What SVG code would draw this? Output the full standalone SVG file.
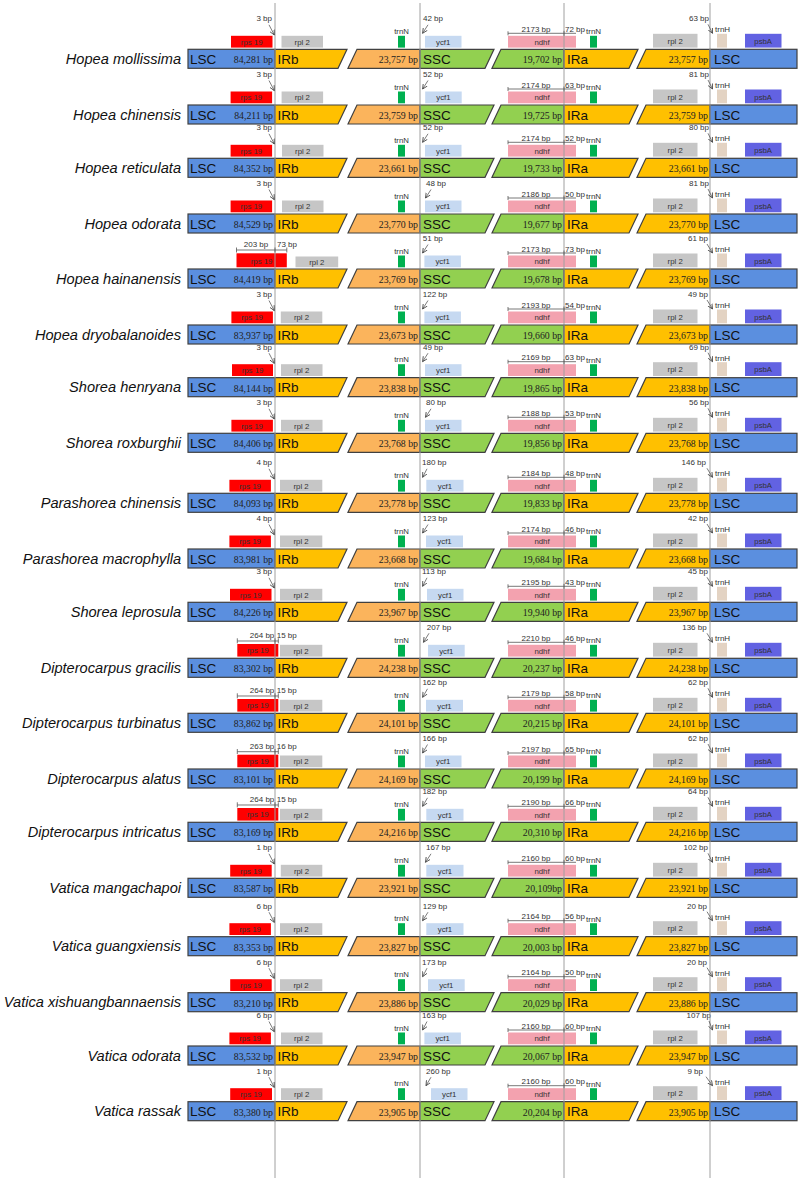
<svg xmlns="http://www.w3.org/2000/svg" width="800" height="1181" viewBox="0 0 800 1181">
<style>
.sp{font-family:"Liberation Sans",Arial,sans-serif;font-style:italic;font-size:14.6px;text-anchor:end;fill:#111}
.rg{font-family:"Liberation Sans",Arial,sans-serif;font-size:13.5px;fill:#111}
.bp{font-family:"Liberation Serif","Times New Roman",serif;font-size:9.8px;text-anchor:end;fill:#222}
.gn{font-family:"Liberation Sans",Arial,sans-serif;font-size:7.8px;text-anchor:middle;fill:#333}
.lb{font-family:"Liberation Sans",Arial,sans-serif;font-size:8px;fill:#333}
.e{text-anchor:end}.m{text-anchor:middle}
.bar{stroke:#404040;stroke-width:1.2}
.lsc{fill:#5B8FDF}.irb{fill:#FFC000}.ir2{fill:#FBB45C}.ssc{fill:#92D050}
.rps{fill:#FF0000}.rpl{fill:#C6C6C6}.trnN{fill:#00B050}.ycf{fill:#C6D9F1}.ndhf{fill:#F3A2AF}.trnH{fill:#E3D3C3}.psbA{fill:#6262E2}
.vl{stroke:#A0A0A0;stroke-width:1;fill:none}
.ar{stroke:#444;stroke-width:0.7;fill:none;marker-end:url(#ah)}
.dm{stroke:#555;stroke-width:0.8;fill:none}
</style>
<defs>
<marker id="ah" markerWidth="6" markerHeight="6" refX="5" refY="3" orient="auto" markerUnits="userSpaceOnUse"><path d="M0,0.6 L5,3 L0,5.4" fill="none" stroke="#444" stroke-width="0.8"/></marker>
<g id="bars">
<rect class="bar lsc" x="188" y="0" width="87" height="19"/>
<polygon class="bar irb" points="275,0 347,0 338,19 275,19"/>
<polygon class="bar ir2" points="348,19 357,0 420,0 420,19"/>
<polygon class="bar ssc" points="420,0 494,0 485,19 420,19"/>
<polygon class="bar ssc" points="492,19 501,0 564,0 564,19"/>
<polygon class="bar irb" points="564,0 638,0 629,19 564,19"/>
<polygon class="bar irb" points="637,19 646,0 710,0 710,19"/>
<rect class="bar lsc" x="710" y="0" width="87" height="19"/>
</g>
<g id="rgenes">
<rect class="trnN" x="398" y="-13.5" width="7" height="11.8"/>
<rect class="ndhf" x="508" y="-13.5" width="68" height="11.8"/>
<rect class="trnN" x="590" y="-13.5" width="7" height="11.8"/>
<rect class="rpl" x="653" y="-15.5" width="44.5" height="13.8"/>
<rect class="trnH" x="717" y="-15.5" width="10" height="13.8"/>
<rect class="psbA" x="745" y="-15.5" width="36.5" height="13.8"/>
</g>
</defs>

<g id="row01" transform="translate(0,49.3)">
<text class="sp" x="181" y="14.5">Hopea mollissima</text>
<use href="#bars"/><use href="#rgenes"/>
<text class="rg" x="190" y="14.5">LSC</text><text class="bp" x="273" y="14">84,281 bp</text>
<text class="rg" x="277.5" y="14.5">IRb</text><text class="bp" x="418" y="14">23,757 bp</text>
<text class="rg" x="423" y="14.5">SSC</text><text class="bp" x="562" y="14">19,702 bp</text>
<text class="rg" x="567" y="14.5">IRa</text><text class="bp" x="708" y="14">23,757 bp</text>
<text class="rg" x="714" y="14.5">LSC</text>
<rect class="rps" x="231" y="-13.5" width="41.5" height="11.8"/><text class="gn" x="251.7" y="-4.8">rps 19</text>
<rect class="rpl" x="281.5" y="-13.5" width="41.5" height="11.8"/><text class="gn" x="302.2" y="-4.8">rpl 2</text>
<text class="gn" x="401.5" y="-15.5">trnN</text>
<rect class="ycf" x="425" y="-13.5" width="36.5" height="11.8"/><text class="gn" x="443.2" y="-4.8">ycf1</text>
<text class="gn" x="542" y="-4.8">ndhf</text><text class="lb" x="586" y="-15">trnN</text>
<text class="gn" x="675.2" y="-5.5">rpl 2</text><text class="lb" x="715" y="-17">trnH</text><text class="gn" x="763.2" y="-5.5">psbA</text>
<text class="lb e" x="272" y="-28">3 bp</text><text class="lb" x="423" y="-28">42 bp</text>
<text class="lb m" x="536" y="-17.5">2173 bp</text><text class="lb" x="565" y="-17.5">72 bp</text>
<text class="lb e" x="709" y="-28">63 bp</text>
</g>

<g id="row02" transform="translate(0,105)">
<text class="sp" x="181" y="14.5">Hopea chinensis</text>
<use href="#bars"/><use href="#rgenes"/>
<text class="rg" x="190" y="14.5">LSC</text><text class="bp" x="273" y="14">84,211 bp</text>
<text class="rg" x="277.5" y="14.5">IRb</text><text class="bp" x="418" y="14">23,759 bp</text>
<text class="rg" x="423" y="14.5">SSC</text><text class="bp" x="562" y="14">19,725 bp</text>
<text class="rg" x="567" y="14.5">IRa</text><text class="bp" x="708" y="14">23,759 bp</text>
<text class="rg" x="714" y="14.5">LSC</text>
<rect class="rps" x="230.6" y="-13.5" width="41.5" height="11.8"/><text class="gn" x="251.3" y="-4.8">rps 19</text>
<rect class="rpl" x="281.6" y="-13.5" width="41.5" height="11.8"/><text class="gn" x="302.3" y="-4.8">rpl 2</text>
<text class="gn" x="401.5" y="-15.5">trnN</text>
<rect class="ycf" x="425.2" y="-13.5" width="36.5" height="11.8"/><text class="gn" x="443.4" y="-4.8">ycf1</text>
<text class="gn" x="542" y="-4.8">ndhf</text><text class="lb" x="586" y="-15">trnN</text>
<text class="gn" x="675.2" y="-5.5">rpl 2</text><text class="lb" x="715" y="-17">trnH</text><text class="gn" x="763.2" y="-5.5">psbA</text>
<text class="lb e" x="272" y="-28">3 bp</text><text class="lb" x="423" y="-28">52 bp</text>
<text class="lb m" x="536" y="-17.5">2174 bp</text><text class="lb" x="565" y="-17.5">63 bp</text>
<text class="lb e" x="709" y="-28">81 bp</text>
</g>

<g id="row03" transform="translate(0,158.3)">
<text class="sp" x="181" y="14.5">Hopea reticulata</text>
<use href="#bars"/><use href="#rgenes"/>
<text class="rg" x="190" y="14.5">LSC</text><text class="bp" x="273" y="14">84,352 bp</text>
<text class="rg" x="277.5" y="14.5">IRb</text><text class="bp" x="418" y="14">23,661 bp</text>
<text class="rg" x="423" y="14.5">SSC</text><text class="bp" x="562" y="14">19,733 bp</text>
<text class="rg" x="567" y="14.5">IRa</text><text class="bp" x="708" y="14">23,661 bp</text>
<text class="rg" x="714" y="14.5">LSC</text>
<rect class="rps" x="230.6" y="-13.5" width="41.5" height="11.8"/><text class="gn" x="251.3" y="-4.8">rps 19</text>
<rect class="rpl" x="282" y="-13.5" width="41.5" height="11.8"/><text class="gn" x="302.7" y="-4.8">rpl 2</text>
<text class="gn" x="401.5" y="-15.5">trnN</text>
<rect class="ycf" x="425" y="-13.5" width="36.5" height="11.8"/><text class="gn" x="443.2" y="-4.8">ycf1</text>
<text class="gn" x="542" y="-4.8">ndhf</text><text class="lb" x="586" y="-15">trnN</text>
<text class="gn" x="675.2" y="-5.5">rpl 2</text><text class="lb" x="715" y="-17">trnH</text><text class="gn" x="763.2" y="-5.5">psbA</text>
<text class="lb e" x="272" y="-28">3 bp</text><text class="lb" x="423" y="-28">52 bp</text>
<text class="lb m" x="536" y="-17.5">2174 bp</text><text class="lb" x="565" y="-17.5">52 bp</text>
<text class="lb e" x="709" y="-28">80 bp</text>
</g>

<g id="row04" transform="translate(0,214)">
<text class="sp" x="181" y="14.5">Hopea odorata</text>
<use href="#bars"/><use href="#rgenes"/>
<text class="rg" x="190" y="14.5">LSC</text><text class="bp" x="273" y="14">84,529 bp</text>
<text class="rg" x="277.5" y="14.5">IRb</text><text class="bp" x="418" y="14">23,770 bp</text>
<text class="rg" x="423" y="14.5">SSC</text><text class="bp" x="562" y="14">19,677 bp</text>
<text class="rg" x="567" y="14.5">IRa</text><text class="bp" x="708" y="14">23,770 bp</text>
<text class="rg" x="714" y="14.5">LSC</text>
<rect class="rps" x="230.6" y="-13.5" width="41.5" height="11.8"/><text class="gn" x="251.3" y="-4.8">rps 19</text>
<rect class="rpl" x="282" y="-13.5" width="41.5" height="11.8"/><text class="gn" x="302.7" y="-4.8">rpl 2</text>
<text class="gn" x="401.5" y="-15.5">trnN</text>
<rect class="ycf" x="425" y="-13.5" width="36.5" height="11.8"/><text class="gn" x="443.2" y="-4.8">ycf1</text>
<text class="gn" x="542" y="-4.8">ndhf</text><text class="lb" x="586" y="-15">trnN</text>
<text class="gn" x="675.2" y="-5.5">rpl 2</text><text class="lb" x="715" y="-17">trnH</text><text class="gn" x="763.2" y="-5.5">psbA</text>
<text class="lb e" x="272" y="-28">3 bp</text><text class="lb" x="426" y="-28">48 bp</text>
<text class="lb m" x="536" y="-17.5">2186 bp</text><text class="lb" x="565" y="-17.5">50 bp</text>
<text class="lb e" x="709" y="-28">81 bp</text>
</g>

<g id="row05" transform="translate(0,269)">
<text class="sp" x="181" y="14.5">Hopea hainanensis</text>
<use href="#bars"/><use href="#rgenes"/>
<text class="rg" x="190" y="14.5">LSC</text><text class="bp" x="273" y="14">84,419 bp</text>
<text class="rg" x="277.5" y="14.5">IRb</text><text class="bp" x="418" y="14">23,769 bp</text>
<text class="rg" x="423" y="14.5">SSC</text><text class="bp" x="562" y="14">19,678 bp</text>
<text class="rg" x="567" y="14.5">IRa</text><text class="bp" x="708" y="14">23,769 bp</text>
<text class="rg" x="714" y="14.5">LSC</text>
<rect class="rps" x="236.5" y="-15.7" width="50.3" height="14"/><text class="gn" x="261.6" y="-5.5">rps 19</text>
<rect class="rpl" x="295.5" y="-12.5" width="42.7" height="10.8"/><text class="gn" x="316.8" y="-4.3">rpl 2</text>
<text class="gn" x="401.5" y="-15.5">trnN</text>
<rect class="ycf" x="424.4" y="-13.5" width="36.5" height="11.8"/><text class="gn" x="442.6" y="-4.8">ycf1</text>
<text class="gn" x="542" y="-4.8">ndhf</text><text class="lb" x="586" y="-15">trnN</text>
<text class="gn" x="675.2" y="-5.5">rpl 2</text><text class="lb" x="715" y="-17">trnH</text><text class="gn" x="763.2" y="-5.5">psbA</text>
<text class="lb m" x="256" y="-22">203 bp</text><text class="lb" x="277" y="-22">73 bp</text>
<text class="lb" x="422.8" y="-28">51 bp</text>
<text class="lb m" x="536" y="-17.5">2173 bp</text><text class="lb" x="565" y="-17.5">73 bp</text>
<text class="lb e" x="708" y="-28">61 bp</text>
</g>

<g id="row06" transform="translate(0,325)">
<text class="sp" x="181" y="14.5">Hopea dryobalanoides</text>
<use href="#bars"/><use href="#rgenes"/>
<text class="rg" x="190" y="14.5">LSC</text><text class="bp" x="273" y="14">83,937 bp</text>
<text class="rg" x="277.5" y="14.5">IRb</text><text class="bp" x="418" y="14">23,673 bp</text>
<text class="rg" x="423" y="14.5">SSC</text><text class="bp" x="562" y="14">19,660 bp</text>
<text class="rg" x="567" y="14.5">IRa</text><text class="bp" x="708" y="14">23,673 bp</text>
<text class="rg" x="714" y="14.5">LSC</text>
<rect class="rps" x="231.4" y="-13.5" width="41.5" height="11.8"/><text class="gn" x="252.1" y="-4.8">rps 19</text>
<rect class="rpl" x="280.8" y="-13.5" width="41.5" height="11.8"/><text class="gn" x="301.5" y="-4.8">rpl 2</text>
<text class="gn" x="401.5" y="-15.5">trnN</text>
<rect class="ycf" x="424.4" y="-13.5" width="36.5" height="11.8"/><text class="gn" x="442.6" y="-4.8">ycf1</text>
<text class="gn" x="542" y="-4.8">ndhf</text><text class="lb" x="586" y="-15">trnN</text>
<text class="gn" x="675.2" y="-5.5">rpl 2</text><text class="lb" x="715" y="-17">trnH</text><text class="gn" x="763.2" y="-5.5">psbA</text>
<text class="lb e" x="272" y="-28">3 bp</text><text class="lb" x="422.8" y="-28">122 bp</text>
<text class="lb m" x="536" y="-17.5">2193 bp</text><text class="lb" x="565" y="-17.5">54 bp</text>
<text class="lb e" x="708" y="-28">49 bp</text>
</g>

<g id="row07" transform="translate(0,377.7)">
<text class="sp" x="181" y="14.5">Shorea henryana</text>
<use href="#bars"/><use href="#rgenes"/>
<text class="rg" x="190" y="14.5">LSC</text><text class="bp" x="273" y="14">84,144 bp</text>
<text class="rg" x="277.5" y="14.5">IRb</text><text class="bp" x="418" y="14">23,838 bp</text>
<text class="rg" x="423" y="14.5">SSC</text><text class="bp" x="562" y="14">19,865 bp</text>
<text class="rg" x="567" y="14.5">IRa</text><text class="bp" x="708" y="14">23,838 bp</text>
<text class="rg" x="714" y="14.5">LSC</text>
<rect class="rps" x="232" y="-13.5" width="41" height="11.8"/><text class="gn" x="252.5" y="-4.8">rps 19</text>
<rect class="rpl" x="281" y="-13.5" width="41.5" height="11.8"/><text class="gn" x="301.7" y="-4.8">rpl 2</text>
<text class="gn" x="401.5" y="-15.5">trnN</text>
<rect class="ycf" x="425" y="-13.5" width="36.5" height="11.8"/><text class="gn" x="443.2" y="-4.8">ycf1</text>
<text class="gn" x="542" y="-4.8">ndhf</text><text class="lb" x="586" y="-15">trnN</text>
<text class="gn" x="675.2" y="-5.5">rpl 2</text><text class="lb" x="715" y="-17">trnH</text><text class="gn" x="763.2" y="-5.5">psbA</text>
<text class="lb e" x="272" y="-28">3 bp</text><text class="lb" x="423" y="-28">49 bp</text>
<text class="lb m" x="536" y="-17.5">2169 bp</text><text class="lb" x="565" y="-17.5">63 bp</text>
<text class="lb e" x="709" y="-28">69 bp</text>
</g>

<g id="row08" transform="translate(0,433.3)">
<text class="sp" x="181" y="14.5">Shorea roxburghii</text>
<use href="#bars"/><use href="#rgenes"/>
<text class="rg" x="190" y="14.5">LSC</text><text class="bp" x="273" y="14">84,406 bp</text>
<text class="rg" x="277.5" y="14.5">IRb</text><text class="bp" x="418" y="14">23,768 bp</text>
<text class="rg" x="423" y="14.5">SSC</text><text class="bp" x="562" y="14">19,856 bp</text>
<text class="rg" x="567" y="14.5">IRa</text><text class="bp" x="708" y="14">23,768 bp</text>
<text class="rg" x="714" y="14.5">LSC</text>
<rect class="rps" x="231.4" y="-13.5" width="41.5" height="11.8"/><text class="gn" x="252.1" y="-4.8">rps 19</text>
<rect class="rpl" x="281" y="-13.5" width="41.5" height="11.8"/><text class="gn" x="301.7" y="-4.8">rpl 2</text>
<text class="gn" x="401.5" y="-15.5">trnN</text>
<rect class="ycf" x="425" y="-13.5" width="36.5" height="11.8"/><text class="gn" x="443.2" y="-4.8">ycf1</text>
<text class="gn" x="542" y="-4.8">ndhf</text><text class="lb" x="586" y="-15">trnN</text>
<text class="gn" x="675.2" y="-5.5">rpl 2</text><text class="lb" x="715" y="-17">trnH</text><text class="gn" x="763.2" y="-5.5">psbA</text>
<text class="lb e" x="272" y="-28">3 bp</text><text class="lb" x="426" y="-28">80 bp</text>
<text class="lb m" x="536" y="-17.5">2188 bp</text><text class="lb" x="565" y="-17.5">53 bp</text>
<text class="lb e" x="709" y="-28">56 bp</text>
</g>

<g id="row09" transform="translate(0,493.3)">
<text class="sp" x="181" y="14.5">Parashorea chinensis</text>
<use href="#bars"/><use href="#rgenes"/>
<text class="rg" x="190" y="14.5">LSC</text><text class="bp" x="273" y="14">84,093 bp</text>
<text class="rg" x="277.5" y="14.5">IRb</text><text class="bp" x="418" y="14">23,778 bp</text>
<text class="rg" x="423" y="14.5">SSC</text><text class="bp" x="562" y="14">19,833 bp</text>
<text class="rg" x="567" y="14.5">IRa</text><text class="bp" x="708" y="14">23,778 bp</text>
<text class="rg" x="714" y="14.5">LSC</text>
<rect class="rps" x="229.4" y="-13.5" width="41.5" height="11.8"/><text class="gn" x="250.1" y="-4.8">rps 19</text>
<rect class="rpl" x="280" y="-13.5" width="42.3" height="11.8"/><text class="gn" x="301.1" y="-4.8">rpl 2</text>
<text class="gn" x="401.5" y="-15.5">trnN</text>
<rect class="ycf" x="426.3" y="-13.5" width="37.2" height="11.8"/><text class="gn" x="444.9" y="-4.8">ycf1</text>
<text class="gn" x="542" y="-4.8">ndhf</text><text class="lb" x="586" y="-15">trnN</text>
<text class="gn" x="675.2" y="-5.5">rpl 2</text><text class="lb" x="715" y="-17">trnH</text><text class="gn" x="763.2" y="-5.5">psbA</text>
<text class="lb e" x="272" y="-28">4 bp</text><text class="lb" x="422" y="-28">180 bp</text>
<text class="lb m" x="536" y="-17.5">2184 bp</text><text class="lb" x="565" y="-17.5">48 bp</text>
<text class="lb e" x="706" y="-28">146 bp</text>
</g>

<g id="row10" transform="translate(0,549)">
<text class="sp" x="181" y="14.5">Parashorea macrophylla</text>
<use href="#bars"/><use href="#rgenes"/>
<text class="rg" x="190" y="14.5">LSC</text><text class="bp" x="273" y="14">83,981 bp</text>
<text class="rg" x="277.5" y="14.5">IRb</text><text class="bp" x="418" y="14">23,668 bp</text>
<text class="rg" x="423" y="14.5">SSC</text><text class="bp" x="562" y="14">19,684 bp</text>
<text class="rg" x="567" y="14.5">IRa</text><text class="bp" x="708" y="14">23,668 bp</text>
<text class="rg" x="714" y="14.5">LSC</text>
<rect class="rps" x="229.4" y="-13.5" width="41.5" height="11.8"/><text class="gn" x="250.1" y="-4.8">rps 19</text>
<rect class="rpl" x="280" y="-13.5" width="42.3" height="11.8"/><text class="gn" x="301.1" y="-4.8">rpl 2</text>
<text class="gn" x="401.5" y="-15.5">trnN</text>
<rect class="ycf" x="426" y="-13.5" width="37" height="11.8"/><text class="gn" x="444.5" y="-4.8">ycf1</text>
<text class="gn" x="542" y="-4.8">ndhf</text><text class="lb" x="586" y="-15">trnN</text>
<text class="gn" x="675.2" y="-5.5">rpl 2</text><text class="lb" x="715" y="-17">trnH</text><text class="gn" x="763.2" y="-5.5">psbA</text>
<text class="lb e" x="272" y="-28">4 bp</text><text class="lb" x="422.8" y="-28">123 bp</text>
<text class="lb m" x="536" y="-17.5">2174 bp</text><text class="lb" x="565" y="-17.5">46 bp</text>
<text class="lb e" x="708" y="-28">42 bp</text>
</g>

<g id="row11" transform="translate(0,602.3)">
<text class="sp" x="181" y="14.5">Shorea leprosula</text>
<use href="#bars"/><use href="#rgenes"/>
<text class="rg" x="190" y="14.5">LSC</text><text class="bp" x="273" y="14">84,226 bp</text>
<text class="rg" x="277.5" y="14.5">IRb</text><text class="bp" x="418" y="14">23,967 bp</text>
<text class="rg" x="423" y="14.5">SSC</text><text class="bp" x="562" y="14">19,940 bp</text>
<text class="rg" x="567" y="14.5">IRa</text><text class="bp" x="708" y="14">23,967 bp</text>
<text class="rg" x="714" y="14.5">LSC</text>
<rect class="rps" x="230" y="-13.5" width="41.5" height="11.8"/><text class="gn" x="250.7" y="-4.8">rps 19</text>
<rect class="rpl" x="280" y="-13.5" width="42.3" height="11.8"/><text class="gn" x="301.1" y="-4.8">rpl 2</text>
<text class="gn" x="401.5" y="-15.5">trnN</text>
<rect class="ycf" x="427" y="-13.5" width="36.5" height="11.8"/><text class="gn" x="445.2" y="-4.8">ycf1</text>
<text class="gn" x="542" y="-4.8">ndhf</text><text class="lb" x="586" y="-15">trnN</text>
<text class="gn" x="675.2" y="-5.5">rpl 2</text><text class="lb" x="715" y="-17">trnH</text><text class="gn" x="763.2" y="-5.5">psbA</text>
<text class="lb e" x="272" y="-28">3 bp</text><text class="lb" x="422" y="-28">113 bp</text>
<text class="lb m" x="536" y="-17.5">2195 bp</text><text class="lb" x="565" y="-17.5">43 bp</text>
<text class="lb e" x="708" y="-28">45 bp</text>
</g>

<g id="row12" transform="translate(0,658.3)">
<text class="sp" x="181" y="14.5">Dipterocarpus gracilis</text>
<use href="#bars"/><use href="#rgenes"/>
<text class="rg" x="190" y="14.5">LSC</text><text class="bp" x="273" y="14">83,302 bp</text>
<text class="rg" x="277.5" y="14.5">IRb</text><text class="bp" x="418" y="14">24,238 bp</text>
<text class="rg" x="423" y="14.5">SSC</text><text class="bp" x="562" y="14">20,237 bp</text>
<text class="rg" x="567" y="14.5">IRa</text><text class="bp" x="708" y="14">24,238 bp</text>
<text class="rg" x="714" y="14.5">LSC</text>
<rect class="rps" x="237.3" y="-14.3" width="41" height="12.6"/><text class="gn" x="257.8" y="-5.2">rps 19</text>
<rect class="rpl" x="280" y="-13.5" width="42.3" height="11.8"/><text class="gn" x="301.1" y="-4.8">rpl 2</text>
<text class="gn" x="401.5" y="-15.5">trnN</text>
<rect class="ycf" x="428" y="-13.5" width="36.7" height="11.8"/><text class="gn" x="446.3" y="-4.8">ycf1</text>
<text class="gn" x="542" y="-4.8">ndhf</text><text class="lb" x="586" y="-15">trnN</text>
<text class="gn" x="675.2" y="-5.5">rpl 2</text><text class="lb" x="715" y="-17">trnH</text><text class="gn" x="763.2" y="-5.5">psbA</text>
<text class="lb e" x="274.3" y="-20">264 bp</text><text class="lb" x="276.7" y="-20">15 bp</text>
<text class="lb" x="426.7" y="-28">207 bp</text>
<text class="lb m" x="536" y="-17.5">2210 bp</text><text class="lb" x="565" y="-17.5">46 bp</text>
<text class="lb e" x="706.7" y="-28">136 bp</text>
</g>

<g id="row13" transform="translate(0,713.3)">
<text class="sp" x="181" y="14.5">Dipterocarpus turbinatus</text>
<use href="#bars"/><use href="#rgenes"/>
<text class="rg" x="190" y="14.5">LSC</text><text class="bp" x="273" y="14">83,862 bp</text>
<text class="rg" x="277.5" y="14.5">IRb</text><text class="bp" x="418" y="14">24,101 bp</text>
<text class="rg" x="423" y="14.5">SSC</text><text class="bp" x="562" y="14">20,215 bp</text>
<text class="rg" x="567" y="14.5">IRa</text><text class="bp" x="708" y="14">24,101 bp</text>
<text class="rg" x="714" y="14.5">LSC</text>
<rect class="rps" x="237.3" y="-14.3" width="41" height="12.6"/><text class="gn" x="257.8" y="-5.2">rps 19</text>
<rect class="rpl" x="280" y="-13.5" width="42.3" height="11.8"/><text class="gn" x="301.1" y="-4.8">rpl 2</text>
<text class="gn" x="401.5" y="-15.5">trnN</text>
<rect class="ycf" x="426" y="-13.5" width="37" height="11.8"/><text class="gn" x="444.5" y="-4.8">ycf1</text>
<text class="gn" x="542" y="-4.8">ndhf</text><text class="lb" x="586" y="-15">trnN</text>
<text class="gn" x="675.2" y="-5.5">rpl 2</text><text class="lb" x="715" y="-17">trnH</text><text class="gn" x="763.2" y="-5.5">psbA</text>
<text class="lb e" x="274.3" y="-20">264 bp</text><text class="lb" x="276.7" y="-20">15 bp</text>
<text class="lb" x="422.4" y="-28">162 bp</text>
<text class="lb m" x="536" y="-17.5">2179 bp</text><text class="lb" x="565" y="-17.5">58 bp</text>
<text class="lb e" x="708" y="-28">62 bp</text>
</g>

<g id="row14" transform="translate(0,769)">
<text class="sp" x="181" y="14.5">Dipterocarpus alatus</text>
<use href="#bars"/><use href="#rgenes"/>
<text class="rg" x="190" y="14.5">LSC</text><text class="bp" x="273" y="14">83,101 bp</text>
<text class="rg" x="277.5" y="14.5">IRb</text><text class="bp" x="418" y="14">24,169 bp</text>
<text class="rg" x="423" y="14.5">SSC</text><text class="bp" x="562" y="14">20,199 bp</text>
<text class="rg" x="567" y="14.5">IRa</text><text class="bp" x="708" y="14">24,169 bp</text>
<text class="rg" x="714" y="14.5">LSC</text>
<rect class="rps" x="237.3" y="-14.3" width="41" height="12.6"/><text class="gn" x="257.8" y="-5.2">rps 19</text>
<rect class="rpl" x="280" y="-13.5" width="42.3" height="11.8"/><text class="gn" x="301.1" y="-4.8">rpl 2</text>
<text class="gn" x="401.5" y="-15.5">trnN</text>
<rect class="ycf" x="425" y="-13.5" width="36.5" height="11.8"/><text class="gn" x="443.2" y="-4.8">ycf1</text>
<text class="gn" x="542" y="-4.8">ndhf</text><text class="lb" x="586" y="-15">trnN</text>
<text class="gn" x="675.2" y="-5.5">rpl 2</text><text class="lb" x="715" y="-17">trnH</text><text class="gn" x="763.2" y="-5.5">psbA</text>
<text class="lb e" x="274.3" y="-20">263 bp</text><text class="lb" x="276.7" y="-20">16 bp</text>
<text class="lb" x="422.4" y="-28">166 bp</text>
<text class="lb m" x="536" y="-17.5">2197 bp</text><text class="lb" x="565" y="-17.5">65 bp</text>
<text class="lb e" x="708" y="-28">62 bp</text>
</g>

<g id="row15" transform="translate(0,822.3)">
<text class="sp" x="181" y="14.5">Dipterocarpus intricatus</text>
<use href="#bars"/><use href="#rgenes"/>
<text class="rg" x="190" y="14.5">LSC</text><text class="bp" x="273" y="14">83,169 bp</text>
<text class="rg" x="277.5" y="14.5">IRb</text><text class="bp" x="418" y="14">24,216 bp</text>
<text class="rg" x="423" y="14.5">SSC</text><text class="bp" x="562" y="14">20,310 bp</text>
<text class="rg" x="567" y="14.5">IRa</text><text class="bp" x="708" y="14">24,216 bp</text>
<text class="rg" x="714" y="14.5">LSC</text>
<rect class="rps" x="237.3" y="-14.3" width="41" height="12.6"/><text class="gn" x="257.8" y="-5.2">rps 19</text>
<rect class="rpl" x="280" y="-13.5" width="42.3" height="11.8"/><text class="gn" x="301.1" y="-4.8">rpl 2</text>
<text class="gn" x="401.5" y="-15.5">trnN</text>
<rect class="ycf" x="426.3" y="-13.5" width="37.2" height="11.8"/><text class="gn" x="444.9" y="-4.8">ycf1</text>
<text class="gn" x="542" y="-4.8">ndhf</text><text class="lb" x="586" y="-15">trnN</text>
<text class="gn" x="675.2" y="-5.5">rpl 2</text><text class="lb" x="715" y="-17">trnH</text><text class="gn" x="763.2" y="-5.5">psbA</text>
<text class="lb e" x="274.3" y="-20">264 bp</text><text class="lb" x="276.7" y="-20">15 bp</text>
<text class="lb" x="422.4" y="-28">182 bp</text>
<text class="lb m" x="536" y="-17.5">2190 bp</text><text class="lb" x="565" y="-17.5">66 bp</text>
<text class="lb e" x="708" y="-28">64 bp</text>
</g>

<g id="row16" transform="translate(0,878.3)">
<text class="sp" x="181" y="14.5">Vatica mangachapoi</text>
<use href="#bars"/><use href="#rgenes"/>
<text class="rg" x="190" y="14.5">LSC</text><text class="bp" x="273" y="14">83,587 bp</text>
<text class="rg" x="277.5" y="14.5">IRb</text><text class="bp" x="418" y="14">23,921 bp</text>
<text class="rg" x="423" y="14.5">SSC</text><text class="bp" x="562" y="14">20,109bp</text>
<text class="rg" x="567" y="14.5">IRa</text><text class="bp" x="708" y="14">23,921 bp</text>
<text class="rg" x="714" y="14.5">LSC</text>
<rect class="rps" x="230.2" y="-13.5" width="41.5" height="11.8"/><text class="gn" x="250.9" y="-4.8">rps 19</text>
<rect class="rpl" x="280.8" y="-13.5" width="41.5" height="11.8"/><text class="gn" x="301.5" y="-4.8">rpl 2</text>
<text class="gn" x="401.5" y="-15.5">trnN</text>
<rect class="ycf" x="426.3" y="-13.5" width="37.2" height="11.8"/><text class="gn" x="444.9" y="-4.8">ycf1</text>
<text class="gn" x="542" y="-4.8">ndhf</text><text class="lb" x="586" y="-15">trnN</text>
<text class="gn" x="675.2" y="-5.5">rpl 2</text><text class="lb" x="715" y="-17">trnH</text><text class="gn" x="763.2" y="-5.5">psbA</text>
<text class="lb e" x="272" y="-28">1 bp</text><text class="lb" x="426" y="-28">167 bp</text>
<text class="lb m" x="536" y="-17.5">2160 bp</text><text class="lb" x="565" y="-17.5">60 bp</text>
<text class="lb e" x="708" y="-28">102 bp</text>
</g>

<g id="row17" transform="translate(0,936.7)">
<text class="sp" x="181" y="14.5">Vatica guangxiensis</text>
<use href="#bars"/><use href="#rgenes"/>
<text class="rg" x="190" y="14.5">LSC</text><text class="bp" x="273" y="14">83,353 bp</text>
<text class="rg" x="277.5" y="14.5">IRb</text><text class="bp" x="418" y="14">23,827 bp</text>
<text class="rg" x="423" y="14.5">SSC</text><text class="bp" x="562" y="14">20,003 bp</text>
<text class="rg" x="567" y="14.5">IRa</text><text class="bp" x="708" y="14">23,827 bp</text>
<text class="rg" x="714" y="14.5">LSC</text>
<rect class="rps" x="229.4" y="-13.5" width="41.5" height="11.8"/><text class="gn" x="250.1" y="-4.8">rps 19</text>
<rect class="rpl" x="280" y="-13.5" width="42.3" height="11.8"/><text class="gn" x="301.1" y="-4.8">rpl 2</text>
<text class="gn" x="401.5" y="-15.5">trnN</text>
<rect class="ycf" x="426.3" y="-13.5" width="37.2" height="11.8"/><text class="gn" x="444.9" y="-4.8">ycf1</text>
<text class="gn" x="542" y="-4.8">ndhf</text><text class="lb" x="586" y="-15">trnN</text>
<text class="gn" x="675.2" y="-5.5">rpl 2</text><text class="lb" x="715" y="-17">trnH</text><text class="gn" x="763.2" y="-5.5">psbA</text>
<text class="lb e" x="272" y="-28">6 bp</text><text class="lb" x="422.8" y="-28">129 bp</text>
<text class="lb m" x="536" y="-17.5">2164 bp</text><text class="lb" x="565" y="-17.5">56 bp</text>
<text class="lb e" x="707" y="-28">20 bp</text>
</g>

<g id="row18" transform="translate(0,992.7)">
<text class="sp" x="181" y="14.5">Vatica xishuangbannaensis</text>
<use href="#bars"/><use href="#rgenes"/>
<text class="rg" x="190" y="14.5">LSC</text><text class="bp" x="273" y="14">83,210 bp</text>
<text class="rg" x="277.5" y="14.5">IRb</text><text class="bp" x="418" y="14">23,886 bp</text>
<text class="rg" x="423" y="14.5">SSC</text><text class="bp" x="562" y="14">20,029 bp</text>
<text class="rg" x="567" y="14.5">IRa</text><text class="bp" x="708" y="14">23,886 bp</text>
<text class="rg" x="714" y="14.5">LSC</text>
<rect class="rps" x="230.2" y="-13.5" width="41.5" height="11.8"/><text class="gn" x="250.9" y="-4.8">rps 19</text>
<rect class="rpl" x="280" y="-13.5" width="42.3" height="11.8"/><text class="gn" x="301.1" y="-4.8">rpl 2</text>
<text class="gn" x="401.5" y="-15.5">trnN</text>
<rect class="ycf" x="428" y="-13.5" width="36.7" height="11.8"/><text class="gn" x="446.3" y="-4.8">ycf1</text>
<text class="gn" x="542" y="-4.8">ndhf</text><text class="lb" x="586" y="-15">trnN</text>
<text class="gn" x="675.2" y="-5.5">rpl 2</text><text class="lb" x="715" y="-17">trnH</text><text class="gn" x="763.2" y="-5.5">psbA</text>
<text class="lb e" x="272" y="-28">6 bp</text><text class="lb" x="422" y="-28">173 bp</text>
<text class="lb m" x="536" y="-17.5">2164 bp</text><text class="lb" x="565" y="-17.5">50 bp</text>
<text class="lb e" x="707" y="-28">20 bp</text>
</g>

<g id="row19" transform="translate(0,1046)">
<text class="sp" x="181" y="14.5">Vatica odorata</text>
<use href="#bars"/><use href="#rgenes"/>
<text class="rg" x="190" y="14.5">LSC</text><text class="bp" x="273" y="14">83,532 bp</text>
<text class="rg" x="277.5" y="14.5">IRb</text><text class="bp" x="418" y="14">23,947 bp</text>
<text class="rg" x="423" y="14.5">SSC</text><text class="bp" x="562" y="14">20,067 bp</text>
<text class="rg" x="567" y="14.5">IRa</text><text class="bp" x="708" y="14">23,947 bp</text>
<text class="rg" x="714" y="14.5">LSC</text>
<rect class="rps" x="229.4" y="-13.5" width="41.5" height="11.8"/><text class="gn" x="250.1" y="-4.8">rps 19</text>
<rect class="rpl" x="281" y="-13.5" width="41.5" height="11.8"/><text class="gn" x="301.7" y="-4.8">rpl 2</text>
<text class="gn" x="401.5" y="-15.5">trnN</text>
<rect class="ycf" x="424.4" y="-13.5" width="36.5" height="11.8"/><text class="gn" x="442.6" y="-4.8">ycf1</text>
<text class="gn" x="542" y="-4.8">ndhf</text><text class="lb" x="586" y="-15">trnN</text>
<text class="gn" x="675.2" y="-5.5">rpl 2</text><text class="lb" x="715" y="-17">trnH</text><text class="gn" x="763.2" y="-5.5">psbA</text>
<text class="lb e" x="272" y="-28">6 bp</text><text class="lb" x="422" y="-28">163 bp</text>
<text class="lb m" x="536" y="-17.5">2160 bp</text><text class="lb" x="565" y="-17.5">60 bp</text>
<text class="lb e" x="711" y="-28">107 bp</text>
</g>

<g id="row20" transform="translate(0,1101.7)">
<text class="sp" x="181" y="14.5">Vatica rassak</text>
<use href="#bars"/><use href="#rgenes"/>
<text class="rg" x="190" y="14.5">LSC</text><text class="bp" x="273" y="14">83,380 bp</text>
<text class="rg" x="277.5" y="14.5">IRb</text><text class="bp" x="418" y="14">23,905 bp</text>
<text class="rg" x="423" y="14.5">SSC</text><text class="bp" x="562" y="14">20,204 bp</text>
<text class="rg" x="567" y="14.5">IRa</text><text class="bp" x="708" y="14">23,905 bp</text>
<text class="rg" x="714" y="14.5">LSC</text>
<rect class="rps" x="230.2" y="-13.5" width="41.8" height="11.8"/><text class="gn" x="251.1" y="-4.8">rps 19</text>
<rect class="rpl" x="281" y="-13.5" width="41.5" height="11.8"/><text class="gn" x="301.7" y="-4.8">rpl 2</text>
<text class="gn" x="401.5" y="-15.5">trnN</text>
<rect class="ycf" x="431" y="-13.5" width="36.5" height="11.8"/><text class="gn" x="449.2" y="-4.8">ycf1</text>
<text class="gn" x="542" y="-4.8">ndhf</text><text class="lb" x="586" y="-15">trnN</text>
<text class="gn" x="675.2" y="-5.5">rpl 2</text><text class="lb" x="715" y="-17">trnH</text><text class="gn" x="763.2" y="-5.5">psbA</text>
<text class="lb e" x="272" y="-28">1 bp</text><text class="lb" x="426" y="-28">260 bp</text>
<text class="lb m" x="536" y="-17.5">2160 bp</text><text class="lb" x="565" y="-17.5">60 bp</text>
<text class="lb e" x="703" y="-28">9 bp</text>
</g>

<g id="connectors">
<path class="vl" d="M275,3 V1178 M420,3 V1178 M564,3 V1178 M710,3 V1178"/>
<g transform="translate(0,49.3)"><path class="ar" d="M269,-24.5 L274.3,-14.3"/><path class="ar" d="M428,-24.5 L422.6,-16"/><path class="dm" d="M508,-16 H576 M508,-18 V-14 M564,-18.5 V-13.5"/><path class="ar" d="M708,-25 L712.5,-16"/></g>
<g transform="translate(0,105)"><path class="ar" d="M269,-24.5 L274.3,-14.3"/><path class="ar" d="M428,-24.5 L422.6,-16"/><path class="dm" d="M508,-16 H576 M508,-18 V-14 M564,-18.5 V-13.5"/><path class="ar" d="M708,-25 L712.5,-16"/></g>
<g transform="translate(0,158.3)"><path class="ar" d="M269,-24.5 L274.3,-14.3"/><path class="ar" d="M428,-24.5 L422.6,-16"/><path class="dm" d="M508,-16 H576 M508,-18 V-14 M564,-18.5 V-13.5"/><path class="ar" d="M708,-25 L712.5,-16"/></g>
<g transform="translate(0,214)"><path class="ar" d="M269,-24.5 L274.3,-14.3"/><path class="ar" d="M431,-24.5 L425.5,-16"/><path class="dm" d="M508,-16 H576 M508,-18 V-14 M564,-18.5 V-13.5"/><path class="ar" d="M708,-25 L712.5,-16"/></g>
<g transform="translate(0,269)"><path class="dm" d="M236.5,-19 H286.8 M236.5,-21.5 V-16.5 M275,-21.5 V-16.5 M286.8,-21.5 V-16.5"/><path class="ar" d="M428,-24.5 L422.6,-16"/><path class="dm" d="M508,-16 H576 M508,-18 V-14 M564,-18.5 V-13.5"/><path class="ar" d="M707,-25 L712.5,-16"/></g>
<g transform="translate(0,325)"><path class="ar" d="M269,-24.5 L274.3,-14.3"/><path class="ar" d="M428,-24.5 L422.6,-16"/><path class="dm" d="M508,-16 H576 M508,-18 V-14 M564,-18.5 V-13.5"/><path class="ar" d="M707,-25 L712.5,-16"/></g>
<g transform="translate(0,377.7)"><path class="ar" d="M269,-24.5 L274.3,-14.3"/><path class="ar" d="M428,-24.5 L422.6,-16"/><path class="dm" d="M508,-16 H576 M508,-18 V-14 M564,-18.5 V-13.5"/><path class="ar" d="M708,-25 L712.5,-16"/></g>
<g transform="translate(0,433.3)"><path class="ar" d="M269,-24.5 L274.3,-14.3"/><path class="ar" d="M431,-24.5 L425.5,-16"/><path class="dm" d="M508,-16 H576 M508,-18 V-14 M564,-18.5 V-13.5"/><path class="ar" d="M708,-25 L712.5,-16"/></g>
<g transform="translate(0,493.3)"><path class="ar" d="M269,-24.5 L274.3,-14.3"/><path class="ar" d="M427,-24.5 L422.6,-16"/><path class="dm" d="M508,-16 H576 M508,-18 V-14 M564,-18.5 V-13.5"/><path class="ar" d="M707,-25 L712.5,-16"/></g>
<g transform="translate(0,549)"><path class="ar" d="M269,-24.5 L274.3,-14.3"/><path class="ar" d="M428,-24.5 L422.6,-16"/><path class="dm" d="M508,-16 H576 M508,-18 V-14 M564,-18.5 V-13.5"/><path class="ar" d="M707,-25 L712.5,-16"/></g>
<g transform="translate(0,602.3)"><path class="ar" d="M269,-24.5 L274.3,-14.3"/><path class="ar" d="M427,-24.5 L422.6,-16"/><path class="dm" d="M508,-16 H576 M508,-18 V-14 M564,-18.5 V-13.5"/><path class="ar" d="M707,-25 L712.5,-16"/></g>
<g transform="translate(0,658.3)"><path class="dm" d="M237.3,-17.3 H278.3 M237.3,-20 V-15 M275,-20 V-14.5 M278.3,-20 V-15"/><path class="ar" d="M429,-25 L423.5,-16"/><path class="dm" d="M508,-16 H576 M508,-18 V-14 M564,-18.5 V-13.5"/><path class="ar" d="M707,-25 L712.5,-16"/></g>
<g transform="translate(0,713.3)"><path class="dm" d="M237.3,-17.3 H278.3 M237.3,-20 V-15 M275,-20 V-14.5 M278.3,-20 V-15"/><path class="ar" d="M427.5,-24.5 L422.6,-16"/><path class="dm" d="M508,-16 H576 M508,-18 V-14 M564,-18.5 V-13.5"/><path class="ar" d="M708,-25 L712.5,-16"/></g>
<g transform="translate(0,769)"><path class="dm" d="M237.3,-17.3 H278.3 M237.3,-20 V-15 M275,-20 V-14.5 M278.3,-20 V-15"/><path class="ar" d="M427.5,-24.5 L422.6,-16"/><path class="dm" d="M508,-16 H576 M508,-18 V-14 M564,-18.5 V-13.5"/><path class="ar" d="M708,-25 L712.5,-16"/></g>
<g transform="translate(0,822.3)"><path class="dm" d="M237.3,-17.3 H278.3 M237.3,-20 V-15 M275,-20 V-14.5 M278.3,-20 V-15"/><path class="ar" d="M427.5,-24.5 L422.6,-16"/><path class="dm" d="M508,-16 H576 M508,-18 V-14 M564,-18.5 V-13.5"/><path class="ar" d="M708,-25 L712.5,-16"/></g>
<g transform="translate(0,878.3)"><path class="ar" d="M269,-24.5 L274.3,-14.3"/><path class="ar" d="M431,-24.5 L425.5,-16"/><path class="dm" d="M508,-16 H576 M508,-18 V-14 M564,-18.5 V-13.5"/><path class="ar" d="M708,-25 L712.5,-16"/></g>
<g transform="translate(0,936.7)"><path class="ar" d="M269,-24.5 L274.3,-14.3"/><path class="ar" d="M428,-24.5 L422.6,-16"/><path class="dm" d="M508,-16 H576 M508,-18 V-14 M564,-18.5 V-13.5"/><path class="ar" d="M707,-25 L712.5,-16"/></g>
<g transform="translate(0,992.7)"><path class="ar" d="M269,-24.5 L274.3,-14.3"/><path class="ar" d="M427,-24.5 L422.6,-16"/><path class="dm" d="M508,-16 H576 M508,-18 V-14 M564,-18.5 V-13.5"/><path class="ar" d="M707,-25 L712.5,-16"/></g>
<g transform="translate(0,1046)"><path class="ar" d="M269,-24.5 L274.3,-14.3"/><path class="ar" d="M427,-24.5 L422.6,-16"/><path class="dm" d="M508,-16 H576 M508,-18 V-14 M564,-18.5 V-13.5"/><path class="ar" d="M709,-25 L712.5,-16"/></g>
<g transform="translate(0,1101.7)"><path class="ar" d="M269,-24.5 L274.3,-14.3"/><path class="ar" d="M431,-24.5 L426,-16"/><path class="dm" d="M508,-16 H576 M508,-18 V-14 M564,-18.5 V-13.5"/><path class="ar" d="M706,-25 L712.5,-16"/></g>
</g>
</svg>
